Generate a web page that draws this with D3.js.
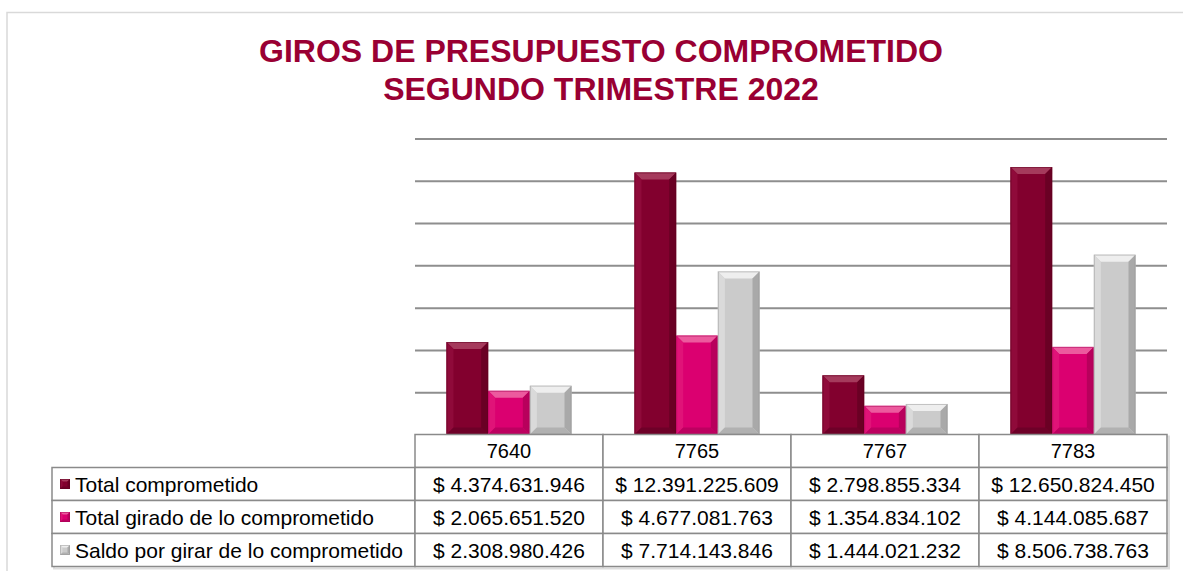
<!DOCTYPE html>
<html lang="es">
<head>
<meta charset="utf-8">
<title>Giros de presupuesto comprometido</title>
<script src="https://cdnjs.cloudflare.com/ajax/libs/d3/7.8.5/d3.min.js"></script>
<style>
body { margin: 0; background: #fff; }
svg { display: block; font-family: "Liberation Sans", Arial, sans-serif; }
</style>
</head>
<body>
<div id="chart"></div>
<script>
// data
var categories = ["7640", "7765", "7767", "7783"];
var seriesNames = ["Total comprometido", "Total girado de lo comprometido", "Saldo por girar de lo comprometido"];
var totalComprometido = [4374631946, 12391225609, 2798855334, 12650824450];
var totalGirado = [2065651520, 4677081763, 1354834102, 4144085687];
var saldoPorGirar = [2308980426, 7714143846, 1444021232, 8506738763];
var yTicks = [0, 2e9, 4e9, 6e9, 8e9, 10e9, 12e9, 14e9];
var titleLines = ["GIROS DE PRESUPUESTO COMPROMETIDO", "SEGUNDO TRIMESTRE 2022"];

var seriesValues = [totalComprometido, totalGirado, saldoPorGirar];

// face / top / left / right / bottom shades for the bevelled bars
var palettes = [
    { face: "#82002e", top: "#a53a5c", left: "#8f0a3a", right: "#6a0024", bottom: "#6e0028" },
    { face: "#db0070", top: "#ec5a9e", left: "#e01378", right: "#b8005c", bottom: "#bd0060" },
    { face: "#cbcbcb", top: "#eeeeee", left: "#dadada", right: "#a9a9a9", bottom: "#b1b1b1" }
];

var svgWidth = 1183, svgHeight = 571;
var plot = { left: 415, right: 1167, top: 138.5, bottom: 434.5 };
var table = { left: 52, rowH: 33 };

var svg = d3.select('#chart').append('svg')
    .attr('width', svgWidth)
    .attr('height', svgHeight);

// outer frame
svg.append('rect')
    .attr('x', 7).attr('y', 12.5)
    .attr('width', svgWidth + 20).attr('height', svgHeight + 20)
    .attr('fill', 'none')
    .attr('stroke', '#d9d9d9')
    .attr('stroke-width', 1.5);

// title
svg.append('g').selectAll('text')
    .data(titleLines)
    .enter().append('text')
    .attr('x', 601)
    .attr('y', function(d, i) { return 62 + i * 38 })
    .attr('text-anchor', 'middle')
    .attr('font-size', '32px')
    .attr('font-weight', 'bold')
    .attr('fill', '#990033')
    .text(function(d) { return d });

var x0 = d3.scaleBand()
    .domain(categories)
    .range([plot.left, plot.right])
    .paddingInner(0.335)
    .paddingOuter(0.335 / 2);

var x1 = d3.scaleBand()
    .domain(d3.range(seriesNames.length))
    .range([0, x0.bandwidth()]);

var y = d3.scaleLinear()
    .domain([0, 14e9])
    .range([plot.bottom, plot.top]);

// gridlines
svg.append('g')
    .attr('transform', 'translate(' + plot.left + ',0)')
    .call(d3.axisLeft(y).tickValues(yTicks).tickSize(-(plot.right - plot.left)).tickFormat(''))
    .call(function(g) { g.select('.domain').remove() })
    .selectAll('line')
    .attr('stroke', '#8e8e8e')
    .attr('stroke-width', 2);

// bevelled bar helper
function bevelBar(g, x, yTop, w, h, pal, size) {
    var b = Math.min(size, h / 2, w / 2);
    var x2 = x + w, y2 = yTop + h;
    g.append('rect').attr('x', x).attr('y', yTop).attr('width', w).attr('height', h).attr('fill', pal.face);
    var polys = [
        { pts: [[x, yTop], [x2, yTop], [x2 - b, yTop + b], [x + b, yTop + b]], fill: pal.top },
        { pts: [[x, yTop], [x + b, yTop + b], [x + b, y2 - b], [x, y2]], fill: pal.left },
        { pts: [[x2, yTop], [x2, y2], [x2 - b, y2 - b], [x2 - b, yTop + b]], fill: pal.right },
        { pts: [[x, y2], [x + b, y2 - b], [x2 - b, y2 - b], [x2, y2]], fill: pal.bottom }
    ];
    g.selectAll('polygon')
        .data(polys)
        .enter().append('polygon')
        .attr('points', function(d) { return d.pts.map(function(p) { return p.join(',') }).join(' ') })
        .attr('fill', function(d) { return d.fill });
    g.append('rect').attr('x', x + 0.5).attr('y', yTop + 0.5).attr('width', w - 1).attr('height', h - 1)
        .attr('fill', 'none').attr('stroke', d3.color(pal.right).darker(0.3)).attr('stroke-opacity', 0.5);
}

var bars = svg.append('g');
categories.forEach(function(cat, ci) {
    seriesValues.forEach(function(vals, si) {
        var bx = x0(cat) + x1(si);
        var top = y(vals[ci]);
        bevelBar(bars.append('g'), bx, top, x1.bandwidth(), plot.bottom - top, palettes[si], 7);
    });
});

// data table
var es = d3.formatLocale({ decimal: ",", thousands: ".", grouping: [3], currency: ["$ ", ""] });
var money = es.format("$,.0f");

var tbl = svg.append('g');
var headerTop = plot.bottom;
var rowsTop = headerTop + table.rowH;
var tableBottom = rowsTop + seriesNames.length * table.rowH;
var lineColor = '#8a8a8a';

// soft shadow
tbl.append('rect')
    .attr('x', table.left + 2).attr('y', rowsTop + 2)
    .attr('width', plot.right - table.left).attr('height', tableBottom - rowsTop)
    .attr('fill', 'none').attr('stroke', '#dddddd').attr('stroke-width', 2);
tbl.append('rect')
    .attr('x', plot.left + 2).attr('y', headerTop + 2)
    .attr('width', plot.right - plot.left).attr('height', table.rowH)
    .attr('fill', 'none').attr('stroke', '#dddddd').attr('stroke-width', 2);

// header cells
tbl.selectAll('rect.head')
    .data(categories)
    .enter().append('rect')
    .attr('class', 'head')
    .attr('x', function(d) { return x0(d) - x0.step() * x0.paddingInner() / 2 })
    .attr('y', headerTop)
    .attr('width', x0.step())
    .attr('height', table.rowH)
    .attr('fill', '#fff')
    .attr('stroke', lineColor)
    .attr('stroke-width', 1.5);

tbl.selectAll('text.head')
    .data(categories)
    .enter().append('text')
    .attr('class', 'head')
    .attr('x', function(d) { return x0(d) + x0.bandwidth() / 2 })
    .attr('y', headerTop + table.rowH / 2 + 7)
    .attr('text-anchor', 'middle')
    .attr('font-size', '20px')
    .attr('fill', '#000')
    .text(function(d) { return d });

// series rows
var rows = tbl.selectAll('g.row')
    .data(seriesNames)
    .enter().append('g')
    .attr('class', 'row')
    .attr('transform', function(d, i) { return 'translate(0,' + (rowsTop + i * table.rowH) + ')' });

rows.append('rect')
    .attr('x', table.left).attr('y', 0)
    .attr('width', plot.left - table.left).attr('height', table.rowH)
    .attr('fill', '#fff').attr('stroke', lineColor).attr('stroke-width', 1.5);

rows.each(function(d, si) {
    var r = d3.select(this);
    bevelBar(r.append('g'), 60, table.rowH / 2 - 5, 10, 10, palettes[si], 2.5);
    r.append('text')
        .attr('x', 75)
        .attr('y', table.rowH / 2 + 7.5)
        .attr('font-size', '21px')
        .attr('fill', '#000')
        .text(d);
    r.selectAll('rect.cell')
        .data(categories)
        .enter().append('rect')
        .attr('class', 'cell')
        .attr('x', function(c) { return x0(c) - x0.step() * x0.paddingInner() / 2 })
        .attr('y', 0)
        .attr('width', x0.step())
        .attr('height', table.rowH)
        .attr('fill', '#fff')
        .attr('stroke', lineColor)
        .attr('stroke-width', 1.5);
    r.selectAll('text.cell')
        .data(seriesValues[si])
        .enter().append('text')
        .attr('class', 'cell')
        .attr('x', function(v, ci) { return x0(categories[ci]) + x0.bandwidth() / 2 })
        .attr('y', table.rowH / 2 + 7.5)
        .attr('text-anchor', 'middle')
        .attr('font-size', '21px')
        .attr('fill', '#000')
        .text(function(v) { return money(v) });
});
</script>
</body>
</html>
